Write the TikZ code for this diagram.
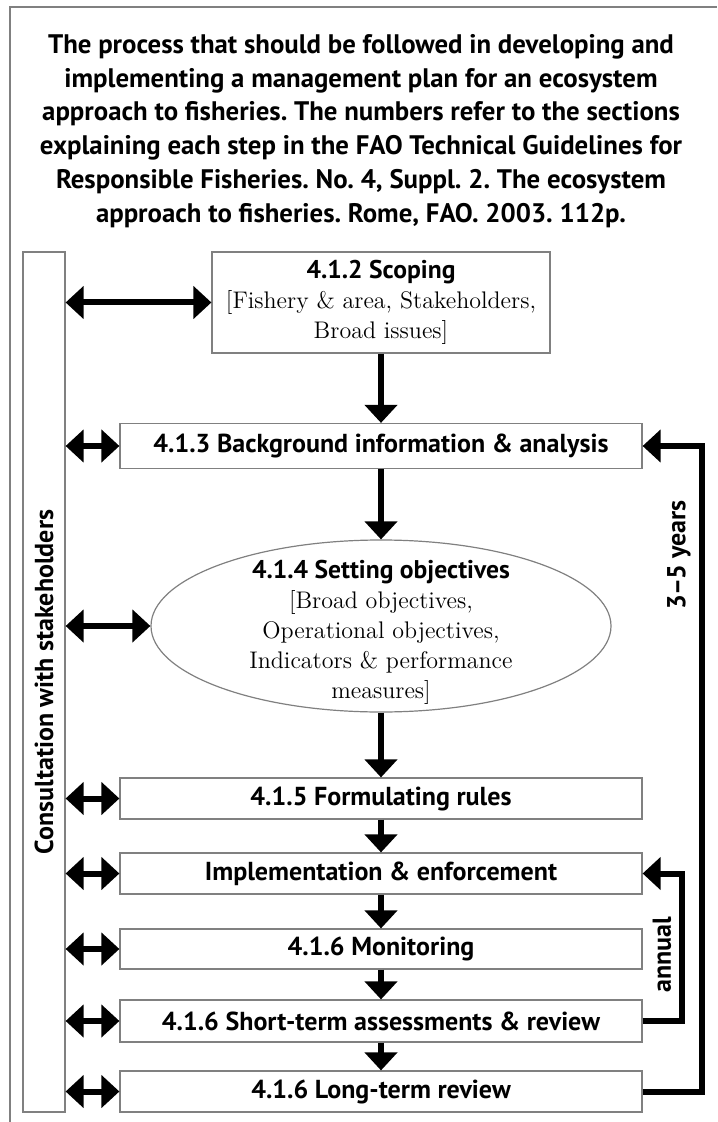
\documentclass[tikz,border=0pt]{standalone}
\usepackage{fontspec}
\newfontfamily\labfont{PT Sans}
\usetikzlibrary{arrows.meta,shapes.geometric}
\frenchspacing

\begin{document}
\begin{tikzpicture}[x=0.5pt,y=-0.5pt,
    box/.style={draw=black!50, line width=0.6pt, fill=white, inner sep=0pt, minimum width=261pt, minimum height=21pt},
    txt/.style={font=\labfont\bfseries\fontsize{13}{15}\selectfont},
    note/.style={font=\fontsize{12}{15}\selectfont, align=center},
    flow/.style={line width=3pt, -{Triangle[length=9pt,width=16pt]}},
    both/.style={line width=3pt, {Triangle[length=9pt,width=16pt]}-{Triangle[length=9pt,width=16pt]}}]
    \useasboundingbox (0,0) rectangle (717,1122);
    % page frame (cut at right and bottom)
    \draw[black!50, line width=0.8pt] (10,1122) -- (10,7) -- (717,7);

    \node[txt, font=\labfont\bfseries\fontsize{13.4}{16.9}\selectfont, align=center] (title) at (361,131)
        {The process that should be followed in developing and\\
         implementing a management plan for an ecosystem\\
         approach to fisheries. The numbers refer to the sections\\
         explaining each step in the FAO Technical Guidelines for\\
         Responsible Fisheries. No. 4, Suppl. 2. The ecosystem\\
         approach to fisheries. Rome, FAO. 2003. 112p.};

    % stakeholder bar
    \node[box, minimum width=21pt, minimum height=430pt] (cons) at (44,682) {};
    \node[txt, rotate=90] (constxt) at (cons) {Consultation with stakeholders};

    % steps
    \node[box, note, minimum width=169pt, minimum height=50.5pt] (scope) at (381,302.5)
        {{\labfont\bfseries\fontsize{12.8}{15}\selectfont 4.1.2 Scoping}\\
         {[}Fishery \& area, Stakeholders,\\ Broad issues]};
    \node[box, txt, minimum height=22.5pt] (backg) at (381,446) {4.1.3 Background information \& analysis};
    \node[box, ellipse, minimum width=230pt, minimum height=86pt] (objec) at (381,626) {};
    \node[note] (objtxt) at (381,632)
        {{\labfont\bfseries\fontsize{12.8}{15}\selectfont 4.1.4 Setting objectives}\\
         {[}Broad objectives,\\ Operational objectives,\\ Indicators \& performance\\ measures]};
    \node[box, txt, minimum height=20.5pt] (rules) at (381,798.5) {4.1.5 Formulating rules};
    \node[box, txt, minimum height=20.5pt] (impl)  at (381,873.5) {Implementation \& enforcement};
    \node[box, txt, minimum height=20pt]   (monit) at (381,949)   {4.1.6 Monitoring};
    \node[box, txt, minimum height=21pt]   (short) at (381,1021)  {4.1.6 Short-term assessments \& review};
    \node[box, txt, minimum height=20.5pt] (long)  at (381,1091.5) {4.1.6 Long-term review};

    % main flow
    \foreach \a/\b in {scope/backg, backg/objec, objec/rules, rules/impl, impl/monit, monit/short, short/long}
        \draw[flow] (\a.south) -- (\b.north);

    % consultation arrows
    \foreach \b in {scope, backg, objec, rules, impl, monit, short, long}
        \draw[both] (cons.east |- \b.west) -- (\b.west);

    % feedback loops
    \coordinate (yr) at (702,0);
    \coordinate (an) at (682,0);
    \draw[flow] (long.east) -- (long.east -| yr) -- (backg.east -| yr) -- (backg.east);
    \draw[flow] (short.east) -- (short.east -| an) -- (impl.east -| an) -- (impl.east);
    \node[txt, rotate=90] (yrs) at (679,555) {3–\kern-1pt5 years};
    \node[txt, rotate=90] (ann) at (662,955) {annual};
\end{tikzpicture}
\end{document}
